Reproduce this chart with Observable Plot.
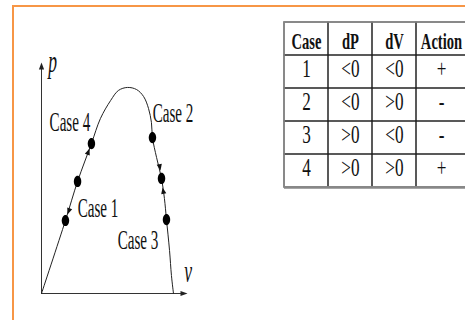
<!DOCTYPE html>
<html>
<head>
<meta charset="utf-8">
<script src="https://cdn.jsdelivr.net/npm/d3@7"></script>
<script src="https://cdn.jsdelivr.net/npm/@observablehq/plot@0.6"></script>
<style>
  html, body { margin: 0; padding: 0; background: #fff; }
  #wrap { position: relative; width: 465px; height: 320px; overflow: hidden; background: #fff; }
  #frame { position: absolute; left: 12px; top: 5px; width: 480px; height: 340px;
           border-top: 2px solid #F79646; border-left: 2px solid #F79646; }
</style>
</head>
<body>
<div id="wrap"><div id="frame"></div></div>
<script>
// ---------- P–V curve data (v horizontal, p vertical; axis ends at 1) ----------
const curveV = [0, 0.164, 0.247, 0.342, 0.404, 0.473, 0.527, 0.589, 0.651, 0.699, 0.733, 0.753, 0.760, 0.788, 0.822, 0.842, 0.856, 0.877, 0.890, 0.904];
const curveP = [0, 0.316, 0.485, 0.649, 0.758, 0.835, 0.879, 0.892, 0.883, 0.853, 0.801, 0.740, 0.675, 0.589, 0.498, 0.411, 0.320, 0.186, 0.078, 0];

const pointV = [0.164, 0.247, 0.342, 0.760, 0.822, 0.856];
const pointP = [0.316, 0.485, 0.649, 0.675, 0.498, 0.320];

const arrowV = [0.178, 0.329, 0.815, 0.829];
const arrowP = [0.342, 0.628, 0.532, 0.459];
const arrowDir = [200, 20, 169, -11]; // heading, degrees clockwise from up

const caseLabels = ["Case 4", "Case 2", "Case 1", "Case 3"];
const caseV = [0.194, 0.901, 0.387, 0.661];
const caseP = [0.742, 0.781, 0.370, 0.232];

const axisLabels = ["p", "v"];
const axisLabelV = [0.079, 1.003];
const axisLabelP = [1.004, 0.096];

// ---------- Table data ----------
const headers = ["Case", "dP", "dV", "Action"];
const caseCol = ["1", "2", "3", "4"];
const dPCol = ["<0", "<0", ">0", ">0"];
const dVCol = ["<0", ">0", "<0", ">0"];
const actionCol = ["+", "-", "-", "+"];

// ---------- helpers ----------
function tri(deg, len, half) {
  const a = deg * Math.PI / 180, dx = Math.sin(a), dy = -Math.cos(a);
  return {
    draw(ctx) {
      const bx = -dx * len, by = -dy * len;
      ctx.moveTo(0, 0);
      ctx.lineTo(bx - dy * half, by + dx * half);
      ctx.lineTo(bx + dy * half, by - dx * half);
      ctx.closePath();
    }
  };
}
function ellipse(rx, ry) {
  const k = 0.5523;
  return {
    draw(ctx) {
      ctx.moveTo(rx, 0);
      ctx.bezierCurveTo(rx, k * ry, k * rx, ry, 0, ry);
      ctx.bezierCurveTo(-k * rx, ry, -rx, k * ry, -rx, 0);
      ctx.bezierCurveTo(-rx, -k * ry, -k * rx, -ry, 0, -ry);
      ctx.bezierCurveTo(k * rx, -ry, rx, -k * ry, rx, 0);
      ctx.closePath();
    }
  };
}
// horizontally condense text (the source uses a narrow Times face)
function condense(svg, factors) {
  svg.querySelectorAll('g[aria-label="text"]').forEach((g, i) => {
    const f = factors[i];
    if (!f) return;
    g.querySelectorAll("text").forEach(t => {
      const b = t.getBBox();
      const cx = b.x + b.width / 2;
      const prev = t.getAttribute("transform") || "";
      t.setAttribute("transform", `${prev} translate(${cx.toFixed(2)},0) scale(${f},1) translate(${(-cx).toFixed(2)},0)`.trim());
    });
  });
}

const curve = curveV.map((v, i) => ({v, p: curveP[i]}));
const points = pointV.map((v, i) => ({v, p: pointP[i]}));
const arrows = arrowV.map((v, i) => ({v, p: arrowP[i], dir: arrowDir[i]}));
const cases = caseLabels.map((t, i) => ({t, v: caseV[i], p: caseP[i]}));
const axisText = axisLabels.map((t, i) => ({t, v: axisLabelV[i], p: axisLabelP[i]}));

const overlay = {position: "absolute", left: "0px", top: "0px", background: "transparent", overflow: "visible"};
const serif = "'Liberation Serif', 'Times New Roman', serif";

const chart = Plot.plot({
  width: 465, height: 320,
  style: overlay,
  x: {domain: [0, 1], range: [41, 187], axis: null},
  y: {domain: [0, 1], range: [293, 62], axis: null},
  marks: [
    Plot.ruleX([0], {y1: 0, y2: 0.98, stroke: "#333", strokeWidth: 1}),
    Plot.ruleY([0], {x1: 0, x2: 0.98, stroke: "#333", strokeWidth: 1}),
    Plot.dot([{v: 0, p: 1}], {x: "v", y: "p", symbol: tri(0, 7, 2.6), fill: "#222", stroke: "none"}),
    Plot.dot([{v: 1, p: 0}], {x: "v", y: "p", symbol: tri(90, 7, 2.6), fill: "#222", stroke: "none"}),
    Plot.line(curve, {x: "v", y: "p", curve: "catmull-rom", stroke: "#222", strokeWidth: 1}),
    ...arrows.map(a => Plot.dot([a], {x: "v", y: "p", symbol: tri(a.dir, 6.5, 2.6), fill: "#111", stroke: "none"})),
    Plot.dot(points, {x: "v", y: "p", symbol: ellipse(3.7, 5.6), fill: "#000", stroke: "none"}),
    Plot.text(cases, {x: "v", y: "p", text: "t", fontFamily: serif, fontSize: 27, fill: "#111"}),
    Plot.text(axisText, {x: "v", y: "p", text: "t", fontFamily: serif, fontStyle: "italic", fontSize: 32, fill: "#111"})
  ]
});

// ---------- table as Plot marks ----------
const nRows = caseCol.length + 1, nCols = headers.length;
const cells = [];
for (let r = 0; r < nRows; ++r) for (let c = 0; c < nCols; ++c) cells.push({r, c});
const headerCells = headers.map((t, c) => ({t, c, r: 0}));
const bodyCells = [];
[caseCol, dPCol, dVCol, actionCol].forEach((col, c) => col.forEach((t, i) => bodyCells.push({t, c, r: i + 1})));

const table = Plot.plot({
  width: 465, height: 320,
  style: overlay,
  x: {type: "linear", domain: [0, 3, 4], range: [284, 416, 466], axis: null},
  y: {domain: [0, 5], range: [22, 187], axis: null},
  marks: [
    Plot.rect(cells, {x1: "c", x2: d => d.c + 1, y1: "r", y2: d => d.r + 1, fill: "none", stroke: "#222", strokeWidth: 1}),
    Plot.rect([{}], {x1: 0, x2: nCols, y1: 0, y2: nRows, fill: "none", stroke: "#888", strokeWidth: 1.6}),
    Plot.ruleY([nRows], {x1: 0, x2: nCols, stroke: "#888", strokeWidth: 2.4}),
    Plot.text(headerCells, {x: d => d.c + 0.5, y: d => d.r + 0.5, text: "t", fontFamily: serif, fontWeight: "bold", fontSize: 23.5, fill: "#111", dy: 2}),
    Plot.text(bodyCells, {x: d => d.c + 0.5, y: d => d.r + 0.5, text: "t", fontFamily: serif, fontSize: 26, fill: "#111", dy: -3})
  ]
});

const wrap = document.getElementById("wrap");
wrap.appendChild(chart);
wrap.appendChild(table);
condense(chart, [0.56, 0.55]);
condense(table, [0.62, 0.66]);
</script>
</body>
</html>
